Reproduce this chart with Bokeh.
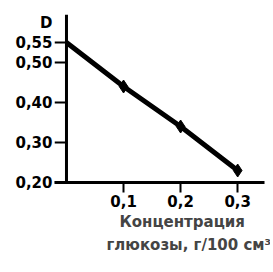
from bokeh.plotting import figure
from bokeh.models import FixedTicker, Span, Title
from bokeh.embed import file_html
from bokeh.resources import INLINE

conc = [0.0, 0.1, 0.2, 0.3]
density = [0.55, 0.44, 0.34, 0.23]
point_conc = [0.1, 0.2, 0.3]
point_density = [0.44, 0.34, 0.23]
y_ticks = [0.20, 0.30, 0.40, 0.50, 0.55]
y_tick_labels = ["0,20", "0,30", "0,40", "0,50", "0,55"]
y_title = "D"
y_title_pos = 0.60
x_ticks = [0.1, 0.2, 0.3]
x_tick_labels = ["0,1", "0,2", "0,3"]
x_title_1 = "Концентрация"
x_title_2 = "глюкозы, г/100 см³"

FONT = "DejaVu Sans"

p = figure(width=270, height=255, output_backend="svg", toolbar_location=None,
           x_range=(-0.021, 0.347), y_range=(0.20, 0.62),
           min_border_left=54, min_border_right=6, min_border_top=14, min_border_bottom=0)
p.grid.visible = False
p.outline_line_color = None

# y axis line at x = 0 and its outward ticks
p.add_layout(Span(location=0, dimension="height", line_color="black", line_width=3))
p.segment(x0=p.x_range.start, y0=y_ticks, x1=0, y1=y_ticks, line_color="black", line_width=2)

p.line(conc, density, line_width=5, color="black")
p.scatter(point_conc, point_density, marker="diamond", size=13, color="black")

for ax in (p.xaxis[0], p.yaxis[0]):
    ax.minor_tick_line_color = None
    ax.major_tick_in = 0
    ax.major_label_text_font = FONT
    ax.major_label_text_font_style = "bold"
    ax.major_label_text_font_size = "15px"
    ax.major_label_text_color = "black"

yax = p.yaxis[0]
yax.ticker = FixedTicker(ticks=y_ticks + [y_title_pos])
overrides = dict(zip(y_ticks, y_tick_labels))
overrides[y_title_pos] = y_title
yax.major_label_overrides = overrides
yax.axis_line_color = None
yax.major_tick_line_color = None
yax.major_tick_out = 0
yax.major_label_standoff = 2

xax = p.xaxis[0]
xax.axis_line_width = 3
xax.axis_line_color = "black"
xax.major_tick_line_width = 2
xax.major_tick_line_color = "black"
xax.ticker = FixedTicker(ticks=x_ticks)
xax.major_label_overrides = dict(zip(x_ticks, x_tick_labels))
xax.major_tick_out = 10
xax.major_label_standoff = 2

p.add_layout(Title(text=x_title_1, align="left", offset=65, text_font=FONT,
                   text_font_style="bold", text_font_size="15px", standoff=3), "below")
p.add_layout(Title(text=x_title_2, align="left", offset=52, text_font=FONT,
                   text_font_style="bold", text_font_size="15px", standoff=3), "below")

open("out.html", "w").write(file_html(p, INLINE))
